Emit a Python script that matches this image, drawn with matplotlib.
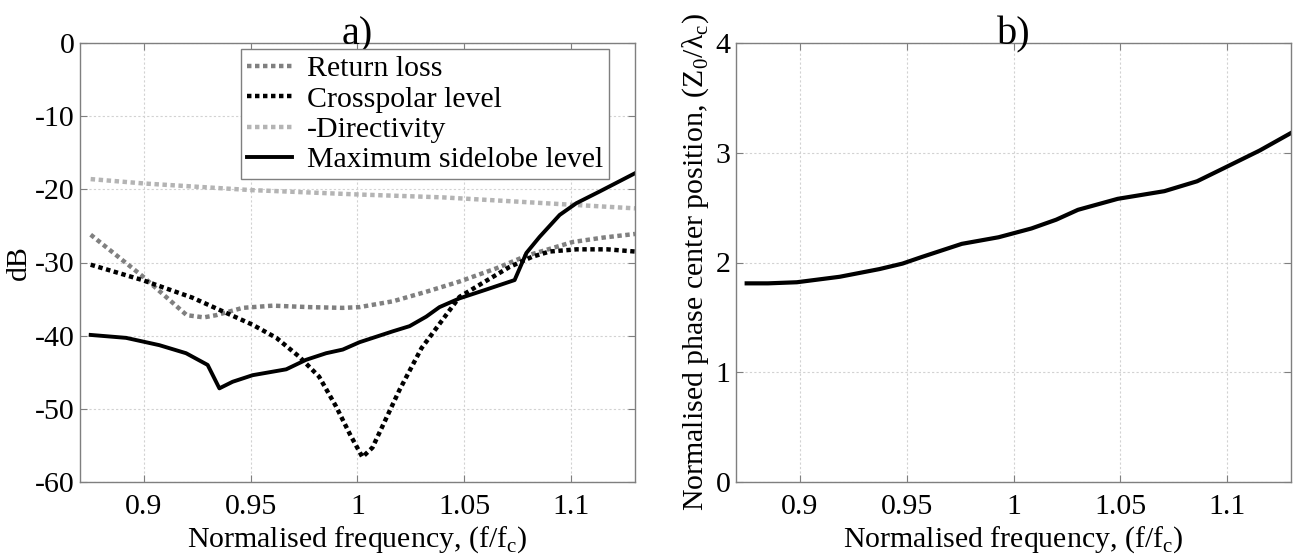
import matplotlib
matplotlib.use("Agg")
import matplotlib.pyplot as plt

plt.rcParams['font.family'] = ['Liberation Serif', 'DejaVu Serif']
plt.rcParams['axes.unicode_minus'] = False
plt.rcParams['font.size'] = 21.5

# ---- data ----
rl_x = [0.875, 0.8994, 0.9103, 0.92, 0.928, 0.9338, 0.9462, 0.9603, 0.9775, 0.9931, 1.0009,
        1.0166, 1.0322, 1.0478, 1.065, 1.079, 1.1008, 1.115, 1.13]
rl_y = [-26.2, -31.9, -34.7, -37.2, -37.5, -37.2, -36.2, -35.9, -36.1, -36.2, -36.1,
        -35.3, -34.0, -32.6, -30.8, -29.1, -27.2, -26.6, -26.1]

cp_x = [0.875, 0.8992, 0.9226, 0.9386, 0.9508, 0.962, 0.9728, 0.982, 0.990, 0.9965, 1.0023,
        1.007, 1.0197, 1.03, 1.0478, 1.0586, 1.0713, 1.082, 1.09, 1.1027, 1.117, 1.13]
cp_y = [-30.3, -32.4, -34.8, -36.9, -38.5, -40.3, -42.9, -45.6, -49.7, -53.5, -56.6,
        -55.3, -47.4, -41.7, -34.7, -32.8, -30.6, -29.2, -28.5, -28.2, -28.2, -28.5]

dir_x = [0.875, 0.9, 0.95, 1.0, 1.04, 1.07, 1.1, 1.13]
dir_y = [-18.6, -19.2, -20.1, -20.7, -21.1, -21.6, -22.1, -22.6]

sl_x = [0.875, 0.8916, 0.9072, 0.9197, 0.9298, 0.9353, 0.9415, 0.9509, 0.9666, 0.9759, 0.9853,
        0.9931, 1.0009, 1.0166, 1.0244, 1.0322, 1.0384, 1.0478, 1.0603, 1.0736, 1.0791, 1.0853,
        1.0947, 1.1025, 1.1134, 1.13]
sl_y = [-39.9, -40.3, -41.3, -42.4, -44.0, -47.2, -46.3, -45.4, -44.6, -43.3, -42.4,
        -41.9, -40.9, -39.4, -38.7, -37.4, -36.1, -34.9, -33.7, -32.4, -28.7, -26.5,
        -23.5, -21.9, -20.3, -17.8]

pc_x = [0.875, 0.885, 0.8985, 0.9186, 0.9372, 0.948, 0.957, 0.9758, 0.993, 1.0084, 1.02,
        1.0302, 1.0488, 1.0707, 1.086, 1.0986, 1.1153, 1.13]
pc_y = [1.81, 1.81, 1.82, 1.87, 1.94, 1.99, 2.05, 2.17, 2.23, 2.31, 2.39,
        2.48, 2.58, 2.65, 2.74, 2.86, 3.02, 3.18]

x_ticks = [0.9, 0.95, 1.0, 1.05, 1.1]
x_ticklabels = ['0.9', '0.95', '1', '1.05', '1.1']
a_yticks = [0, -10, -20, -30, -40, -50, -60]
b_yticks = [0, 1, 2, 3, 4]

legend_labels = ['Return loss', 'Crosspolar level', '-Directivity', 'Maximum sidelobe level']

W, H = 1304, 557
fig = plt.figure(figsize=(W / 100, H / 100), dpi=100)

ax1 = fig.add_axes([80 / W, (H - 482) / H, 555 / W, 439 / H])
ax2 = fig.add_axes([736 / W, (H - 482) / H, 555 / W, 439 / H])

spine_col = '#7f7f7f'
grid_kw = dict(color='#d2d2d2', linestyle=(0, (2, 2)), linewidth=0.8)
FS = 21.5

for ax in (ax1, ax2):
    ax.set_xlim(0.87, 1.13)
    ax.set_xticks(x_ticks)
    ax.set_xticklabels(x_ticklabels)
    ax.grid(True, **grid_kw)
    ax.set_axisbelow(True)
    for s in ax.spines.values():
        s.set_color(spine_col)
        s.set_linewidth(1.0)
    ax.tick_params(direction='in', length=5, color=spine_col, labelsize=FS,
                   top=True, right=True)
    ax.tick_params(axis='x', pad=9)
    ax.tick_params(axis='y', pad=4)
    ax.set_xlabel('Normalised frequency, (f/f$_\\mathregular{c}$)', fontsize=FS, labelpad=3)

dot = (0, (1, 0.8))
ax1.plot(rl_x, rl_y, color='#808080', linestyle=dot, linewidth=3.2, label=legend_labels[0])
ax1.plot(cp_x, cp_y, color='black', linestyle=dot, linewidth=3.2, label=legend_labels[1])
ax1.plot(dir_x, dir_y, color='#b4b4b4', linestyle=dot, linewidth=3.2, label=legend_labels[2])
ax1.plot(sl_x, sl_y, color='black', linestyle='-', linewidth=2.8, label=legend_labels[3])
ax1.set_ylim(-60, 0)
ax1.set_yticks(a_yticks)
ax1.set_ylabel('dB', fontsize=FS, labelpad=2)
ax1.set_title('a)', fontsize=29, pad=-1)

leg = ax1.legend(loc='upper left', bbox_to_anchor=(0.29, 0.986), borderaxespad=0,
                 fontsize=FS, fancybox=False, framealpha=1, edgecolor='#7f7f7f',
                 handlelength=1.5, handletextpad=0.5, labelspacing=0.12, borderpad=0.2)
leg.get_frame().set_linewidth(1.0)

ax2.plot(pc_x, pc_y, color='black', linewidth=3.0)
ax2.set_ylim(0, 4)
ax2.set_yticks(b_yticks)
ax2.set_ylabel('Normalised phase center position, (Z$_\\mathregular{0}$/λ$_\\mathregular{c}$)',
               fontsize=FS, labelpad=3)
ax2.set_title('b)', fontsize=29, pad=-1)

fig.savefig('out.png', dpi=100)
